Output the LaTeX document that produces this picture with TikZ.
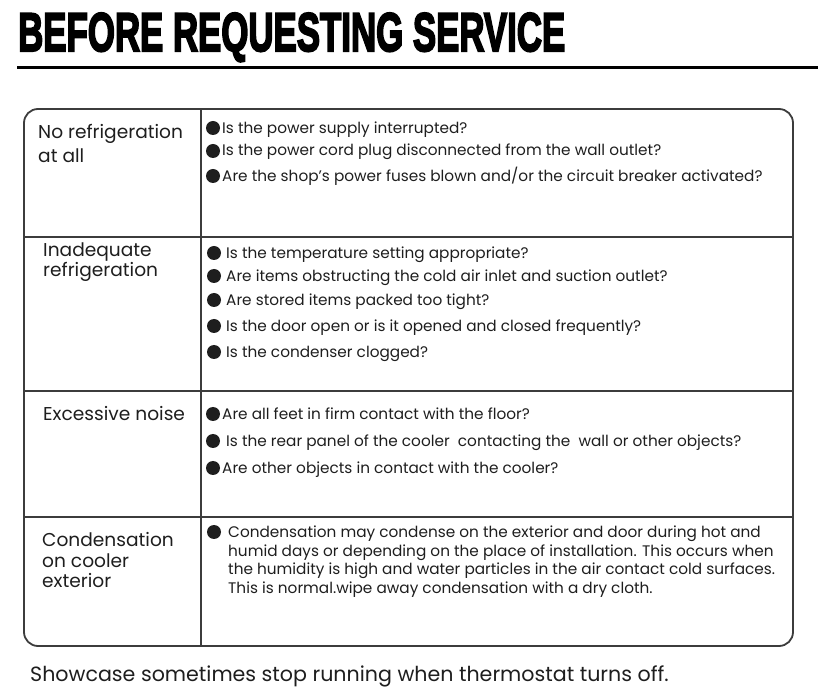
\documentclass[tikz,border=0pt]{standalone}
\usepackage{fontspec}
\setmainfont{Poppins}
\newfontfamily\titlefont[BoldFeatures={FakeBold=4}]{Liberation Sans}
\definecolor{ink}{HTML}{1E1E1E}
\definecolor{rulec}{HTML}{3C3C3C}
\begin{document}
\begin{tikzpicture}[x=1pt,y=-1pt,
  txt/.style={anchor=base west, inner sep=0pt, font=\fontsize{15.3}{18}\selectfont, text=ink},
  lbl/.style={anchor=base west, inner sep=0pt, font=\fontsize{18.6}{20}\selectfont, text=ink},
  dot/.style={circle, fill=ink, inner sep=0pt, minimum size=14pt},
  gridline/.style={draw=rulec, line width=1.8pt},
]
\useasboundingbox (0,0) rectangle (836,700);
% title
\node[anchor=base west, inner sep=0pt, text=black] (title) at (18,51)
  {\resizebox{547pt}{38pt}{\titlefont\bfseries BEFORE REQUESTING SERVICE}};
\coordinate (r1) at (17,68);
\coordinate (r2) at (818,68);
\draw[line width=3pt, black] (r1) -- (r2);
% table
\coordinate (tl) at (24,109);
\coordinate (br) at (793,646);
\draw[gridline, rounded corners=14pt] (tl) rectangle (br);
\coordinate (d1) at (201,109);
\coordinate (d2) at (201,646);
\draw[gridline] (d1) -- (d2);
\foreach \yy/\n in {237/a,391/b,517/c}{
  \coordinate (h\n l) at (24,\yy);
  \coordinate (h\n r) at (793,\yy);
  \draw[gridline] (h\n l) -- (h\n r);
}
% left labels
\node[lbl] (l1a) at (38,139) {No refrigeration};
\node[lbl] (l1b) at (38,163) {at all};
\node[lbl] (l2a) at (43,257) {Inadequate};
\node[lbl] (l2b) at (43,277) {refrigeration};
\node[lbl] (l3a) at (43,421) {Excessive noise};
\node[lbl] (l4a) at (42,547) {Condensation};
\node[lbl] (l4b) at (42,567) {on cooler};
\node[lbl] (l4c) at (42,587) {exterior};
% row 1
\node[dot] (b11) at (213,128) {};
\node[txt] (t11) at (222,134) {Is the power supply interrupted?};
\node[dot] (b12) at (213,151) {};
\node[txt] (t12) at (222,156) {Is the power cord plug disconnected from the wall outlet?};
\node[dot] (b13) at (213,176) {};
\node[txt] (t13) at (222,182) {Are the shop's power fuses blown and/or the circuit breaker activated?};
% row 2
\node[dot] (b21) at (214,253) {};
\node[txt] (t21) at (226,259) {Is the temperature setting appropriate?};
\node[dot] (b22) at (214,276) {};
\node[txt] (t22) at (226,282) {Are items obstructing the cold air inlet and suction outlet?};
\node[dot] (b23) at (214,300) {};
\node[txt] (t23) at (226,306) {Are stored items packed too tight?};
\node[dot] (b24) at (214,326) {};
\node[txt] (t24) at (226,332) {Is the door open or is it opened and closed frequently?};
\node[dot] (b25) at (214,352) {};
\node[txt] (t25) at (226,358) {Is the condenser clogged?};
% row 3
\node[dot] (b31) at (213,414) {};
\node[txt] (t31) at (222,420) {Are all feet in firm contact with the floor?};
\node[dot] (b32) at (213,441) {};
\node[txt] (t32) at (226,447) {Is the rear panel of the cooler\ \ contacting the\ \ wall or other objects?};
\node[dot] (b33) at (213,468) {};
\node[txt] (t33) at (222,474) {Are other objects in contact with the cooler?};
% row 4
\node[dot] (b41) at (214,532) {};
\node[txt] (t41) at (228,537) {Condensation may condense on the exterior and door during hot and};
\node[txt] (t42) at (228,556) {humid days or depending on the place of installation. This occurs when};
\node[txt] (t43) at (228,575) {the humidity is high and water particles in the air contact cold surfaces.};
\node[txt] (t44) at (228,594) {This is normal.wipe away condensation with a dry cloth.};
% footer
\node[anchor=base west, inner sep=0pt, font=\fontsize{20.6}{24}\selectfont, text=ink] (foot) at (30,681)
  {Showcase sometimes stop running when thermostat turns off.};
\end{tikzpicture}
\end{document}
